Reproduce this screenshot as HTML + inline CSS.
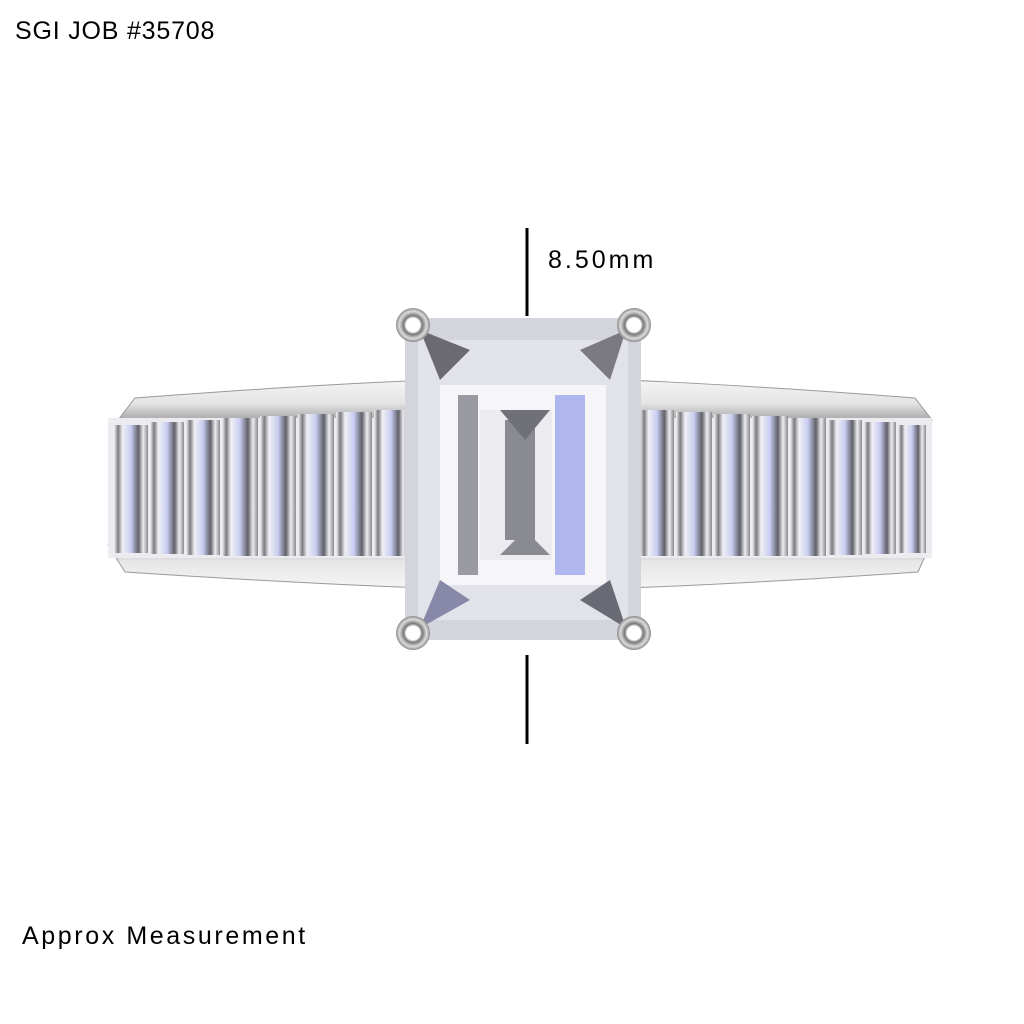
<!DOCTYPE html>
<html><head><style>
html,body{margin:0;padding:0;background:#fff;}
.t{position:absolute;font-family:"Liberation Sans",Calibri,sans-serif;color:#000;white-space:nowrap;}
</style></head><body>
<div style="position:relative;width:1024px;height:1024px;overflow:hidden;background:#fff">
<div class="t" style="left:15px;top:17px;font-size:25px;letter-spacing:0.8px;">SGI JOB #35708</div>
<div class="t" style="left:548px;top:246px;font-size:25px;letter-spacing:3px;">8.50mm</div>
<div class="t" style="left:22px;top:922px;font-size:25px;letter-spacing:2.6px;">Approx Measurement</div>
<svg width="1024" height="1024" style="position:absolute;left:0;top:0">
<defs>
<linearGradient id="metal" x1="0" y1="0" x2="0" y2="1">
<stop offset="0" stop-color="#f6f6f6"/><stop offset="0.6" stop-color="#e4e4e4"/><stop offset="1" stop-color="#a8a8a8"/></linearGradient>
<linearGradient id="metal2" x1="0" y1="0" x2="0" y2="1">
<stop offset="0" stop-color="#a0a0a0"/><stop offset="0.35" stop-color="#e6e6e6"/><stop offset="1" stop-color="#f6f6f6"/></linearGradient>
<linearGradient id="bag" x1="0" y1="0" x2="1" y2="0">
<stop offset="0" stop-color="#f6f6f8"/><stop offset="0.12" stop-color="#7a7a80"/><stop offset="0.25" stop-color="#f0f0f4"/><stop offset="0.5" stop-color="#c8ccf0"/><stop offset="0.72" stop-color="#606068"/><stop offset="0.86" stop-color="#ececf0"/><stop offset="1" stop-color="#8a8a90"/></linearGradient>
<radialGradient id="prong"><stop offset="0.4" stop-color="#fff"/><stop offset="0.55" stop-color="#777"/><stop offset="0.8" stop-color="#dcdcdc"/><stop offset="1" stop-color="#8a8a8a"/></radialGradient>
</defs>
<line x1="527" y1="228" x2="527" y2="316" stroke="#000" stroke-width="3"/>
<line x1="527" y1="655" x2="527" y2="744" stroke="#000" stroke-width="3"/>
<path d="M118 420 L135 398 Q400 378 527 378 Q654 378 915 398 L932 420 Z" fill="url(#metal)" stroke="#999"/>
<path d="M108 545 L930 545 L918 572 Q654 590 527 590 Q400 590 125 572 Z" fill="url(#metal2)" stroke="#999"/>
<rect x="108" y="418" width="824" height="140" fill="#ececf0"/>
<g>
<rect x="114" y="425" width="34" height="128" fill="url(#bag)"/>
<rect x="150" y="422" width="34" height="132" fill="url(#bag)"/>
<rect x="186" y="420" width="34" height="135" fill="url(#bag)"/>
<rect x="222" y="418" width="36" height="138" fill="url(#bag)"/>
<rect x="260" y="416" width="36" height="140" fill="url(#bag)"/>
<rect x="298" y="414" width="36" height="142" fill="url(#bag)"/>
<rect x="336" y="412" width="36" height="144" fill="url(#bag)"/>
<rect x="374" y="410" width="34" height="146" fill="url(#bag)"/>
<rect x="640" y="410" width="34" height="146" fill="url(#bag)"/>
<rect x="676" y="412" width="36" height="144" fill="url(#bag)"/>
<rect x="714" y="414" width="36" height="142" fill="url(#bag)"/>
<rect x="752" y="416" width="36" height="140" fill="url(#bag)"/>
<rect x="790" y="418" width="36" height="138" fill="url(#bag)"/>
<rect x="828" y="420" width="34" height="135" fill="url(#bag)"/>
<rect x="864" y="422" width="32" height="132" fill="url(#bag)"/>
<rect x="898" y="425" width="28" height="128" fill="url(#bag)"/>
</g>
<rect x="405" y="318" width="236" height="322" fill="#d4d4dc"/>
<rect x="418" y="340" width="210" height="280" fill="#e2e2ea"/>
<rect x="440" y="385" width="166" height="200" fill="#f6f6f8"/>
<rect x="458" y="395" width="20" height="180" fill="#9a9aa2"/>
<rect x="555" y="395" width="30" height="180" fill="#b0b6ee"/>
<rect x="480" y="410" width="72" height="150" fill="#ececf0"/>
<rect x="505" y="420" width="30" height="120" fill="#8a8a92"/>
<polygon points="500,410 550,410 525,440" fill="#707078"/>
<polygon points="500,555 550,555 525,530" fill="#8a8a92"/>
<path d="M420 330 L470 350 L440 380 Z" fill="#6a6a70"/>
<path d="M626 330 L580 350 L610 380 Z" fill="#7a7a80"/>
<path d="M420 628 L470 600 L440 580 Z" fill="#8888a8"/>
<path d="M626 628 L580 600 L610 580 Z" fill="#6a6a74"/>
<circle cx="413" cy="325" r="17" fill="url(#prong)"/>
<circle cx="634" cy="325" r="17" fill="url(#prong)"/>
<circle cx="413" cy="633" r="17" fill="url(#prong)"/>
<circle cx="634" cy="633" r="17" fill="url(#prong)"/>
</svg>
</div>
</body></html>
